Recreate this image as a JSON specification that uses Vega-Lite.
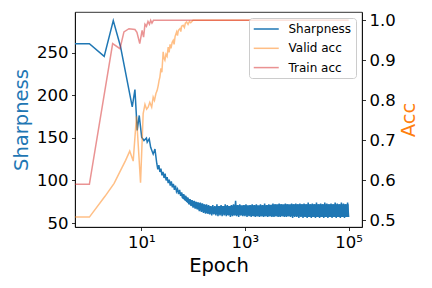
{
  "$schema": "https://vega.github.io/schema/vega-lite/v6.json",
  "width": 287,
  "height": 215,
  "autosize": {"type": "none"},
  "padding": {"left": 75, "top": 12, "right": 70, "bottom": 61},
  "config": {
    "font": "DejaVu Sans",
    "view": {"stroke": "#000", "strokeWidth": 0.8},
    "axis": {
      "grid": false, "domainColor": "#000", "domainWidth": 0.8, "tickColor": "#000", "tickWidth": 0.8,
      "tickSize": 3.5, "labelColor": "#000", "labelFontSize": 16.5, "labelFont": "DejaVu Sans",
      "titleFont": "DejaVu Sans", "titleFontSize": 19.5, "titleFontWeight": "normal", "labelPadding": 3.5
    },
    "legend": {
      "orient": "top-right", "offset": 6, "padding": 4, "strokeColor": "#cccccc",
      "fillColor": "rgba(255,255,255,0.8)", "cornerRadius": 3, "symbolType": "M-1,0H3",
      "symbolSize": 156.25, "symbolStrokeWidth": 1.5, "labelFontSize": 12, "labelFont": "DejaVu Sans",
      "labelColor": "#000", "labelOffset": 21.5, "rowPadding": 6.3
    }
  },
  "datasets": {
    "band": [
      {"epoch": 60, "lo": 80, "hi": 85}, {"epoch": 80, "lo": 73, "hi": 79}, {"epoch": 100, "lo": 69, "hi": 76},
      {"epoch": 126, "lo": 66, "hi": 74}, {"epoch": 158, "lo": 63, "hi": 72}, {"epoch": 200, "lo": 61, "hi": 70},
      {"epoch": 251, "lo": 61, "hi": 69}, {"epoch": 316, "lo": 60, "hi": 70}, {"epoch": 398, "lo": 60, "hi": 70},
      {"epoch": 501, "lo": 59, "hi": 70}, {"epoch": 631, "lo": 59, "hi": 71}, {"epoch": 1000, "lo": 59, "hi": 71},
      {"epoch": 1585, "lo": 58, "hi": 71}, {"epoch": 2512, "lo": 58, "hi": 71}, {"epoch": 3981, "lo": 58, "hi": 72},
      {"epoch": 6310, "lo": 58, "hi": 72}, {"epoch": 10000, "lo": 58, "hi": 72}, {"epoch": 15849, "lo": 57, "hi": 72},
      {"epoch": 25119, "lo": 57, "hi": 72}, {"epoch": 39811, "lo": 57, "hi": 72}, {"epoch": 63096, "lo": 57, "hi": 72},
      {"epoch": 100000, "lo": 57, "hi": 72}
    ],
    "sharp": [
      {"epoch": 0.528, "sharpness": 261}, {"epoch": 1, "sharpness": 261}, {"epoch": 1.93, "sharpness": 246},
      {"epoch": 2.89, "sharpness": 288}, {"epoch": 3.97, "sharpness": 258}, {"epoch": 6.71, "sharpness": 186.5},
      {"epoch": 7.56, "sharpness": 207}, {"epoch": 8.37, "sharpness": 159}, {"epoch": 9.15, "sharpness": 176.5},
      {"epoch": 10.2, "sharpness": 151}, {"epoch": 11.3, "sharpness": 147}, {"epoch": 12.6, "sharpness": 150},
      {"epoch": 13.05, "sharpness": 145}, {"epoch": 14.26, "sharpness": 149}, {"epoch": 15.2, "sharpness": 139},
      {"epoch": 17.0, "sharpness": 131}, {"epoch": 18.4, "sharpness": 137},
      {"epoch": 19.95, "sharpness": 120}, {"epoch": 20.89, "sharpness": 113}, {"epoch": 21.88, "sharpness": 118},
      {"epoch": 22.91, "sharpness": 110}, {"epoch": 23.99, "sharpness": 114}, {"epoch": 25.12, "sharpness": 106},
      {"epoch": 26.30, "sharpness": 110}, {"epoch": 27.54, "sharpness": 103}, {"epoch": 28.84, "sharpness": 108},
      {"epoch": 30.20, "sharpness": 100}, {"epoch": 31.62, "sharpness": 104}, {"epoch": 33.11, "sharpness": 97},
      {"epoch": 34.67, "sharpness": 101}, {"epoch": 36.31, "sharpness": 94}, {"epoch": 38.02, "sharpness": 99},
      {"epoch": 39.81, "sharpness": 92}, {"epoch": 41.69, "sharpness": 96}, {"epoch": 43.65, "sharpness": 89},
      {"epoch": 45.71, "sharpness": 94}, {"epoch": 47.86, "sharpness": 87}, {"epoch": 50.12, "sharpness": 90},
      {"epoch": 52.48, "sharpness": 84}, {"epoch": 54.95, "sharpness": 89}, {"epoch": 57.54, "sharpness": 82},
      {"epoch": 60.26, "sharpness": 86}, {"epoch": 63.10, "sharpness": 79}, {"epoch": 66.07, "sharpness": 84},
      {"epoch": 69.18, "sharpness": 77}, {"epoch": 72.44, "sharpness": 82}, {"epoch": 75.86, "sharpness": 75},
      {"epoch": 79.43, "sharpness": 80}, {"epoch": 83.18, "sharpness": 72}, {"epoch": 87.10, "sharpness": 78},
      {"epoch": 91.20, "sharpness": 70}, {"epoch": 95.50, "sharpness": 77}, {"epoch": 100, "sharpness": 68},
      {"epoch": 104.7, "sharpness": 76}, {"epoch": 109.6, "sharpness": 67}, {"epoch": 114.8, "sharpness": 75},
      {"epoch": 120.2, "sharpness": 66}, {"epoch": 125.9, "sharpness": 74}, {"epoch": 131.8, "sharpness": 64},
      {"epoch": 138.0, "sharpness": 74}, {"epoch": 144.5, "sharpness": 63}, {"epoch": 151.4, "sharpness": 73},
      {"epoch": 158.5, "sharpness": 62}, {"epoch": 166.0, "sharpness": 72}, {"epoch": 173.8, "sharpness": 61},
      {"epoch": 182.0, "sharpness": 72}, {"epoch": 190.5, "sharpness": 61}, {"epoch": 199.5, "sharpness": 71},
      {"epoch": 208.9, "sharpness": 60}, {"epoch": 218.8, "sharpness": 70}, {"epoch": 229.1, "sharpness": 59},
      {"epoch": 239.9, "sharpness": 71}, {"epoch": 251.2, "sharpness": 60}, {"epoch": 263.0, "sharpness": 70},
      {"epoch": 275.4, "sharpness": 59}, {"epoch": 288.4, "sharpness": 72}, {"epoch": 302.0, "sharpness": 58},
      {"epoch": 316.2, "sharpness": 70}, {"epoch": 331.1, "sharpness": 59}, {"epoch": 346.7, "sharpness": 71},
      {"epoch": 363.1, "sharpness": 58}, {"epoch": 380.2, "sharpness": 70}, {"epoch": 398.1, "sharpness": 59},
      {"epoch": 416.9, "sharpness": 72}, {"epoch": 436.5, "sharpness": 58}, {"epoch": 457.1, "sharpness": 71},
      {"epoch": 478.6, "sharpness": 59}, {"epoch": 501.2, "sharpness": 70}, {"epoch": 524.8, "sharpness": 57},
      {"epoch": 549.5, "sharpness": 71}, {"epoch": 575.4, "sharpness": 58}, {"epoch": 602.6, "sharpness": 72},
      {"epoch": 631.0, "sharpness": 59}, {"epoch": 660.7, "sharpness": 76}, {"epoch": 691.8, "sharpness": 58},
      {"epoch": 724.4, "sharpness": 71}, {"epoch": 758.6, "sharpness": 57}, {"epoch": 794.3, "sharpness": 72},
      {"epoch": 831.8, "sharpness": 59}, {"epoch": 871.0, "sharpness": 70}, {"epoch": 912.0, "sharpness": 58},
      {"epoch": 955.0, "sharpness": 71}, {"epoch": 1000, "sharpness": 58}, {"epoch": 1047, "sharpness": 72},
      {"epoch": 1096, "sharpness": 57}, {"epoch": 1148, "sharpness": 70}, {"epoch": 1202, "sharpness": 58},
      {"epoch": 1259, "sharpness": 71}, {"epoch": 1318, "sharpness": 57}, {"epoch": 1380, "sharpness": 72},
      {"epoch": 1445, "sharpness": 58}, {"epoch": 1514, "sharpness": 71}, {"epoch": 1585, "sharpness": 57},
      {"epoch": 1660, "sharpness": 72}, {"epoch": 1738, "sharpness": 58}, {"epoch": 1820, "sharpness": 70},
      {"epoch": 1905, "sharpness": 57}, {"epoch": 1995, "sharpness": 72}, {"epoch": 2089, "sharpness": 58},
      {"epoch": 2188, "sharpness": 71}, {"epoch": 2291, "sharpness": 57}, {"epoch": 2399, "sharpness": 73},
      {"epoch": 2512, "sharpness": 58}, {"epoch": 2630, "sharpness": 71}, {"epoch": 2754, "sharpness": 57},
      {"epoch": 2884, "sharpness": 72}, {"epoch": 3020, "sharpness": 58}, {"epoch": 3162, "sharpness": 71},
      {"epoch": 3311, "sharpness": 57}, {"epoch": 3467, "sharpness": 73}, {"epoch": 3631, "sharpness": 57},
      {"epoch": 3802, "sharpness": 72}, {"epoch": 3981, "sharpness": 58}, {"epoch": 4169, "sharpness": 71},
      {"epoch": 4365, "sharpness": 57}, {"epoch": 4571, "sharpness": 73}, {"epoch": 4786, "sharpness": 57},
      {"epoch": 5012, "sharpness": 72}, {"epoch": 5248, "sharpness": 58}, {"epoch": 5495, "sharpness": 71},
      {"epoch": 5754, "sharpness": 57}, {"epoch": 6026, "sharpness": 73}, {"epoch": 6310, "sharpness": 57},
      {"epoch": 6607, "sharpness": 72}, {"epoch": 6918, "sharpness": 58}, {"epoch": 7244, "sharpness": 71},
      {"epoch": 7586, "sharpness": 57}, {"epoch": 7943, "sharpness": 73}, {"epoch": 8318, "sharpness": 56},
      {"epoch": 8710, "sharpness": 72}, {"epoch": 9120, "sharpness": 57}, {"epoch": 9550, "sharpness": 73},
      {"epoch": 10000, "sharpness": 57}, {"epoch": 10471, "sharpness": 72}, {"epoch": 10965, "sharpness": 56},
      {"epoch": 11482, "sharpness": 73}, {"epoch": 12023, "sharpness": 57}, {"epoch": 12589, "sharpness": 72},
      {"epoch": 13183, "sharpness": 56}, {"epoch": 13804, "sharpness": 73}, {"epoch": 14454, "sharpness": 57},
      {"epoch": 15136, "sharpness": 72}, {"epoch": 15849, "sharpness": 56}, {"epoch": 16596, "sharpness": 74},
      {"epoch": 17378, "sharpness": 57}, {"epoch": 18197, "sharpness": 72}, {"epoch": 19055, "sharpness": 56},
      {"epoch": 19953, "sharpness": 73}, {"epoch": 20893, "sharpness": 57}, {"epoch": 21878, "sharpness": 72},
      {"epoch": 22909, "sharpness": 56}, {"epoch": 23988, "sharpness": 74}, {"epoch": 25119, "sharpness": 57},
      {"epoch": 26303, "sharpness": 72}, {"epoch": 27542, "sharpness": 56}, {"epoch": 28840, "sharpness": 73},
      {"epoch": 30200, "sharpness": 57}, {"epoch": 31623, "sharpness": 72}, {"epoch": 33113, "sharpness": 56},
      {"epoch": 34674, "sharpness": 74}, {"epoch": 36308, "sharpness": 57}, {"epoch": 38019, "sharpness": 73},
      {"epoch": 39811, "sharpness": 56}, {"epoch": 41687, "sharpness": 72}, {"epoch": 43652, "sharpness": 57},
      {"epoch": 45709, "sharpness": 73}, {"epoch": 47863, "sharpness": 56}, {"epoch": 50119, "sharpness": 72},
      {"epoch": 52481, "sharpness": 57}, {"epoch": 54954, "sharpness": 74}, {"epoch": 57544, "sharpness": 56},
      {"epoch": 60256, "sharpness": 73}, {"epoch": 63096, "sharpness": 57}, {"epoch": 66069, "sharpness": 72},
      {"epoch": 69183, "sharpness": 56}, {"epoch": 72444, "sharpness": 74}, {"epoch": 75858, "sharpness": 57},
      {"epoch": 79433, "sharpness": 73}, {"epoch": 83176, "sharpness": 56}, {"epoch": 87096, "sharpness": 72},
      {"epoch": 91201, "sharpness": 57}, {"epoch": 95499, "sharpness": 74}, {"epoch": 100000, "sharpness": 57}
    ],
    "valid": [
      {"epoch": 0.528, "acc": 0.508}, {"epoch": 1, "acc": 0.508}, {"epoch": 2, "acc": 0.56}, {"epoch": 3, "acc": 0.5925},
      {"epoch": 4, "acc": 0.625}, {"epoch": 5, "acc": 0.65}, {"epoch": 6, "acc": 0.673}, {"epoch": 7, "acc": 0.648},
      {"epoch": 8.1, "acc": 0.76}, {"epoch": 9.7, "acc": 0.594}, {"epoch": 10.9, "acc": 0.767}, {"epoch": 11.8, "acc": 0.79},
      {"epoch": 12.7, "acc": 0.778}, {"epoch": 13.6, "acc": 0.783}, {"epoch": 14.6, "acc": 0.795}, {"epoch": 15.9, "acc": 0.783},
      {"epoch": 17.0, "acc": 0.808}, {"epoch": 18.0, "acc": 0.8}, {"epoch": 19.2, "acc": 0.817}, {"epoch": 20.3, "acc": 0.825},
      {"epoch": 21.3, "acc": 0.8375}, {"epoch": 22.1, "acc": 0.85}, {"epoch": 22.9, "acc": 0.858}, {"epoch": 24, "acc": 0.88},
      {"epoch": 25, "acc": 0.87}, {"epoch": 26.5, "acc": 0.921}, {"epoch": 27.5, "acc": 0.905}, {"epoch": 28.6, "acc": 0.9},
      {"epoch": 30, "acc": 0.915}, {"epoch": 31.5, "acc": 0.91}, {"epoch": 33.1, "acc": 0.933}, {"epoch": 34.5, "acc": 0.92},
      {"epoch": 36, "acc": 0.94}, {"epoch": 37.5, "acc": 0.93}, {"epoch": 39.5, "acc": 0.945}, {"epoch": 41.4, "acc": 0.95},
      {"epoch": 43, "acc": 0.94}, {"epoch": 45, "acc": 0.96}, {"epoch": 48.1, "acc": 0.971}, {"epoch": 50, "acc": 0.962},
      {"epoch": 52, "acc": 0.975}, {"epoch": 55.7, "acc": 0.979}, {"epoch": 58, "acc": 0.972}, {"epoch": 60, "acc": 0.985},
      {"epoch": 64.4, "acc": 0.9875}, {"epoch": 68, "acc": 0.982}, {"epoch": 71, "acc": 0.993}, {"epoch": 75, "acc": 0.996},
      {"epoch": 80, "acc": 0.99}, {"epoch": 85, "acc": 0.997}, {"epoch": 90, "acc": 0.994}, {"epoch": 100, "acc": 1.0},
      {"epoch": 100000, "acc": 1.0}
    ],
    "train": [
      {"epoch": 0.528, "acc": 0.59}, {"epoch": 1, "acc": 0.59}, {"epoch": 2.81, "acc": 0.942}, {"epoch": 3.89, "acc": 0.929},
      {"epoch": 4.64, "acc": 0.971}, {"epoch": 5.8, "acc": 0.979}, {"epoch": 7.56, "acc": 0.977}, {"epoch": 8.26, "acc": 0.97},
      {"epoch": 9.36, "acc": 0.942}, {"epoch": 10.4, "acc": 0.975}, {"epoch": 11.1, "acc": 0.958}, {"epoch": 11.8, "acc": 0.99},
      {"epoch": 12.6, "acc": 0.985}, {"epoch": 13.5, "acc": 0.997}, {"epoch": 14.4, "acc": 0.99}, {"epoch": 15.2, "acc": 1.0},
      {"epoch": 16.1, "acc": 0.993}, {"epoch": 17.2, "acc": 1.0}, {"epoch": 100000, "acc": 1.0}
    ]
  },
  "layer": [
    {
      "layer": [
        {
          "data": {"name": "sharp"},
          "mark": {"type": "line", "strokeWidth": 1.5, "clip": true},
          "encoding": {
            "x": {
              "field": "epoch", "type": "quantitative",
              "scale": {"type": "log", "domain": [0.528, 181000], "nice": false},
              "axis": {
                "values": [10, 1000, 100000], "title": "Epoch", "labelFlush": false, "titlePadding": 6,
                "labelExpr": "datum.value == 10 ? '10¹' : datum.value == 1000 ? '10³' : '10⁵'"
              }
            },
            "y": {
              "field": "sharpness", "type": "quantitative",
              "scale": {"domain": [45.3, 298.2], "nice": false, "zero": false},
              "axis": {"values": [50, 100, 150, 200, 250], "title": "Sharpness", "titleColor": "#1f77b4", "titlePadding": 5}
            },
            "color": {
              "datum": "Sharpness", "type": "nominal",
              "scale": {"domain": ["Sharpness", "Valid acc", "Train acc"], "range": ["#1f77b4", "#ff7f0e", "#d62728"]},
              "legend": {
                "title": null,
                "encode": {"symbols": {"update": {"opacity": {"signal": "datum.value === 'Sharpness' ? 1 : 0.5"}}}}
              }
            }
          }
        },
        {
          "data": {"name": "band"},
          "mark": {"type": "area", "color": "#1f77b4", "opacity": 1, "clip": true},
          "encoding": {
            "x": {"field": "epoch", "type": "quantitative"},
            "y": {"field": "lo", "type": "quantitative"},
            "y2": {"field": "hi"}
          }
        }
      ]
    },
    {
      "layer": [
        {
          "data": {"name": "valid"},
          "mark": {"type": "line", "strokeWidth": 1.5, "opacity": 0.5, "clip": true},
          "encoding": {
            "x": {"field": "epoch", "type": "quantitative"},
            "y": {
              "field": "acc", "type": "quantitative",
              "scale": {"domain": [0.4833, 1.0208], "nice": false, "zero": false},
              "axis": {
                "orient": "right", "values": [0.5, 0.6, 0.7, 0.8, 0.9, 1.0], "format": ".1f",
                "title": "Acc", "titleColor": "#ff7f0e", "titleAngle": 270, "titleBaseline": "top", "titlePadding": 4
              }
            },
            "color": {"datum": "Valid acc", "type": "nominal"}
          }
        },
        {
          "data": {"name": "train"},
          "mark": {"type": "line", "strokeWidth": 1.5, "opacity": 0.5, "clip": true},
          "encoding": {
            "x": {"field": "epoch", "type": "quantitative"},
            "y": {"field": "acc", "type": "quantitative"},
            "color": {"datum": "Train acc", "type": "nominal"}
          }
        }
      ]
    }
  ],
  "resolve": {"scale": {"y": "independent"}}
}
